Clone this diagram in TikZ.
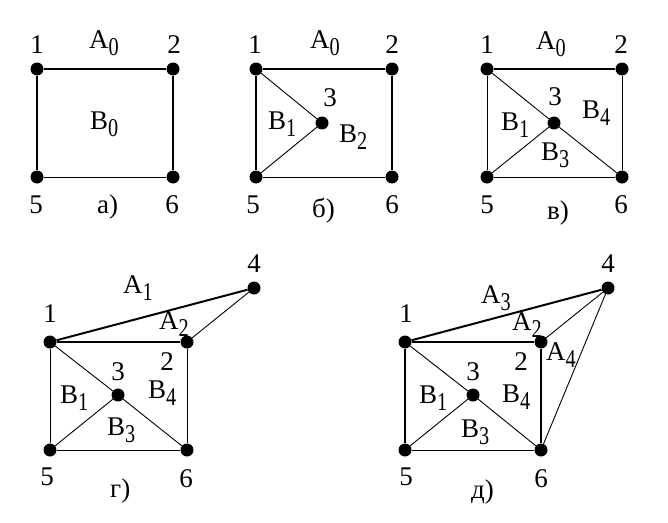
\documentclass[tikz,border=0pt]{standalone}
\usepackage{fontspec}
\usepackage{graphicx}
\setmainfont{Liberation Serif}
\usetikzlibrary{positioning}

\newcommand{\sbs}[2]{#1\raisebox{-7pt}{\scalebox{0.75}[0.95]{#2}}}

\tikzset{
    vtx/.style={circle, fill=black, inner sep=0pt, minimum size=13pt},
    lab/.style={anchor=base, inner sep=0pt, font=\fontsize{27}{31}\selectfont},
    labw/.style={lab, anchor=base west},
    thk/.style={line width=2pt},
    thn/.style={line width=0.9pt}
}

\begin{document}
\begin{tikzpicture}[x=1pt, y=-1pt]
    \useasboundingbox (0,0) rectangle (668,522);

        % a)
        \node[vtx](a_1) at (37, 69){};
        \node[vtx](a_2) at (173, 69){};
        \node[vtx](a_5) at (37, 177){};
        \node[vtx](a_6) at (173, 177){};

        \path[thk] (a_1) edge (a_2);
        \path[thk] (a_1) edge (a_5);
        \path[thk] (a_2) edge (a_6);
        \path[thn] (a_5) edge (a_6);

        \node[lab](a_l1) at (37, 53){1};
        \node[lab](a_l2) at (174, 53){2};
        \node[labw](a_lA) at (89, 48){\sbs{A}{0}};
        \node[labw](a_lB) at (90, 129){\sbs{B}{0}};
        \node[lab](a_l5) at (36, 213){5};
        \node[lab](a_l6) at (172, 213){6};
        \node[labw](a_t) at (97, 213){а)};

        % b)
        \node[vtx](b_1) at (256, 69){};
        \node[vtx](b_2) at (392, 69){};
        \node[vtx](b_3) at (322, 123){};
        \node[vtx](b_5) at (256, 177){};
        \node[vtx](b_6) at (392, 177){};

        \path[thk] (b_1) edge (b_2);
        \path[thk] (b_1) edge (b_5);
        \path[thk] (b_2) edge (b_6);
        \path[thn] (b_5) edge (b_6);
        \path[thn] (b_1) edge (b_3);
        \path[thn] (b_5) edge (b_3);

        \node[lab](b_l1) at (255, 53){1};
        \node[lab](b_l2) at (392, 53){2};
        \node[lab](b_l3) at (330, 106){3};
        \node[labw](b_lA) at (310, 48){\sbs{A}{0}};
        \node[labw](b_lB1) at (268, 129){\sbs{B}{1}};
        \node[labw](b_lB2) at (339, 142){\sbs{B}{2}};
        \node[lab](b_l5) at (253, 213){5};
        \node[lab](b_l6) at (392, 213){6};
        \node[labw](b_t) at (312, 217){б)};

        % v)
        \node[vtx](v_1) at (487, 69){};
        \node[vtx](v_2) at (622, 69){};
        \node[vtx](v_3) at (554, 123){};
        \node[vtx](v_5) at (487, 177){};
        \node[vtx](v_6) at (622, 177){};

        \path[thk] (v_1) edge (v_2);
        \path[thn] (v_1) edge (v_5);
        \path[thn] (v_2) edge (v_6);
        \path[thn] (v_5) edge (v_6);
        \path[thn] (v_1) edge (v_3);
        \path[thn] (v_3) edge (v_6);
        \path[thn] (v_5) edge (v_3);

        \node[lab](v_l1) at (487, 53){1};
        \node[lab](v_l2) at (621, 53){2};
        \node[lab](v_l3) at (555, 105){3};
        \node[labw](v_lA) at (536, 49){\sbs{A}{0}};
        \node[labw](v_lB1) at (501, 130){\sbs{B}{1}};
        \node[labw](v_lB3) at (541, 160){\sbs{B}{3}};
        \node[labw](v_lB4) at (582, 118){\sbs{B}{4}};
        \node[lab](v_l5) at (487, 213){5};
        \node[lab](v_l6) at (621, 213){6};
        \node[labw](v_t) at (547, 219){в)};

        % g)
        \node[vtx](g_1) at (50, 342){};
        \node[vtx](g_2) at (187, 342){};
        \node[vtx](g_3) at (118, 395){};
        \node[vtx](g_4) at (254, 288){};
        \node[vtx](g_5) at (50, 450){};
        \node[vtx](g_6) at (187, 450){};

        \path[thk] (g_1) edge (g_2);
        \path[thk] (g_1) edge (g_4);
        \path[thn] (g_4) edge (g_2);
        \path[thn] (g_1) edge (g_5);
        \path[thn] (g_2) edge (g_6);
        \path[thn] (g_5) edge (g_6);
        \path[thn] (g_1) edge (g_3);
        \path[thn] (g_3) edge (g_6);
        \path[thn] (g_5) edge (g_3);

        \node[lab](g_l1) at (50, 322){1};
        \node[lab](g_l2) at (167, 370){2};
        \node[lab](g_l3) at (118, 380){3};
        \node[lab](g_l4) at (254, 272){4};
        \node[labw](g_lA1) at (123, 293){\sbs{A}{1}};
        \node[labw](g_lA2) at (159, 329){\sbs{A}{2}};
        \node[labw](g_lB1) at (60, 403){\sbs{B}{1}};
        \node[labw](g_lB3) at (107, 435){\sbs{B}{3}};
        \node[labw](g_lB4) at (148, 398){\sbs{B}{4}};
        \node[lab](g_l5) at (47, 485){5};
        \node[lab](g_l6) at (186, 487){6};
        \node[labw](g_t) at (110, 497){г)};

        % d)
        \node[vtx](d_1) at (405, 342){};
        \node[vtx](d_2) at (541, 342){};
        \node[vtx](d_3) at (473, 395){};
        \node[vtx](d_4) at (608, 288){};
        \node[vtx](d_5) at (405, 450){};
        \node[vtx](d_6) at (541, 450){};

        \path[thk] (d_1) edge (d_2);
        \path[thk] (d_1) edge (d_4);
        \path[thk] (d_1) edge (d_5);
        \path[thk] (d_2) edge (d_6);
        \path[thn] (d_4) edge (d_2);
        \path[thn] (d_4) edge (d_6);
        \path[thn] (d_5) edge (d_6);
        \path[thn] (d_1) edge (d_3);
        \path[thn] (d_3) edge (d_6);
        \path[thn] (d_5) edge (d_3);

        \node[lab](d_l1) at (406, 322){1};
        \node[lab](d_l2) at (521, 370){2};
        \node[lab](d_l3) at (473, 380){3};
        \node[lab](d_l4) at (608, 272){4};
        \node[labw](d_lA3) at (481, 303){\sbs{A}{3}};
        \node[labw](d_lA2) at (512, 330){\sbs{A}{2}};
        \node[labw](d_lA4) at (546, 360){\sbs{A}{4}};
        \node[labw](d_lB1) at (419, 403){\sbs{B}{1}};
        \node[labw](d_lB3) at (461, 437){\sbs{B}{3}};
        \node[labw](d_lB4) at (502, 402){\sbs{B}{4}};
        \node[lab](d_l5) at (406, 485){5};
        \node[lab](d_l6) at (541, 487){6};
        \node[labw](d_t) at (471, 498){д)};
\end{tikzpicture}
\end{document}
